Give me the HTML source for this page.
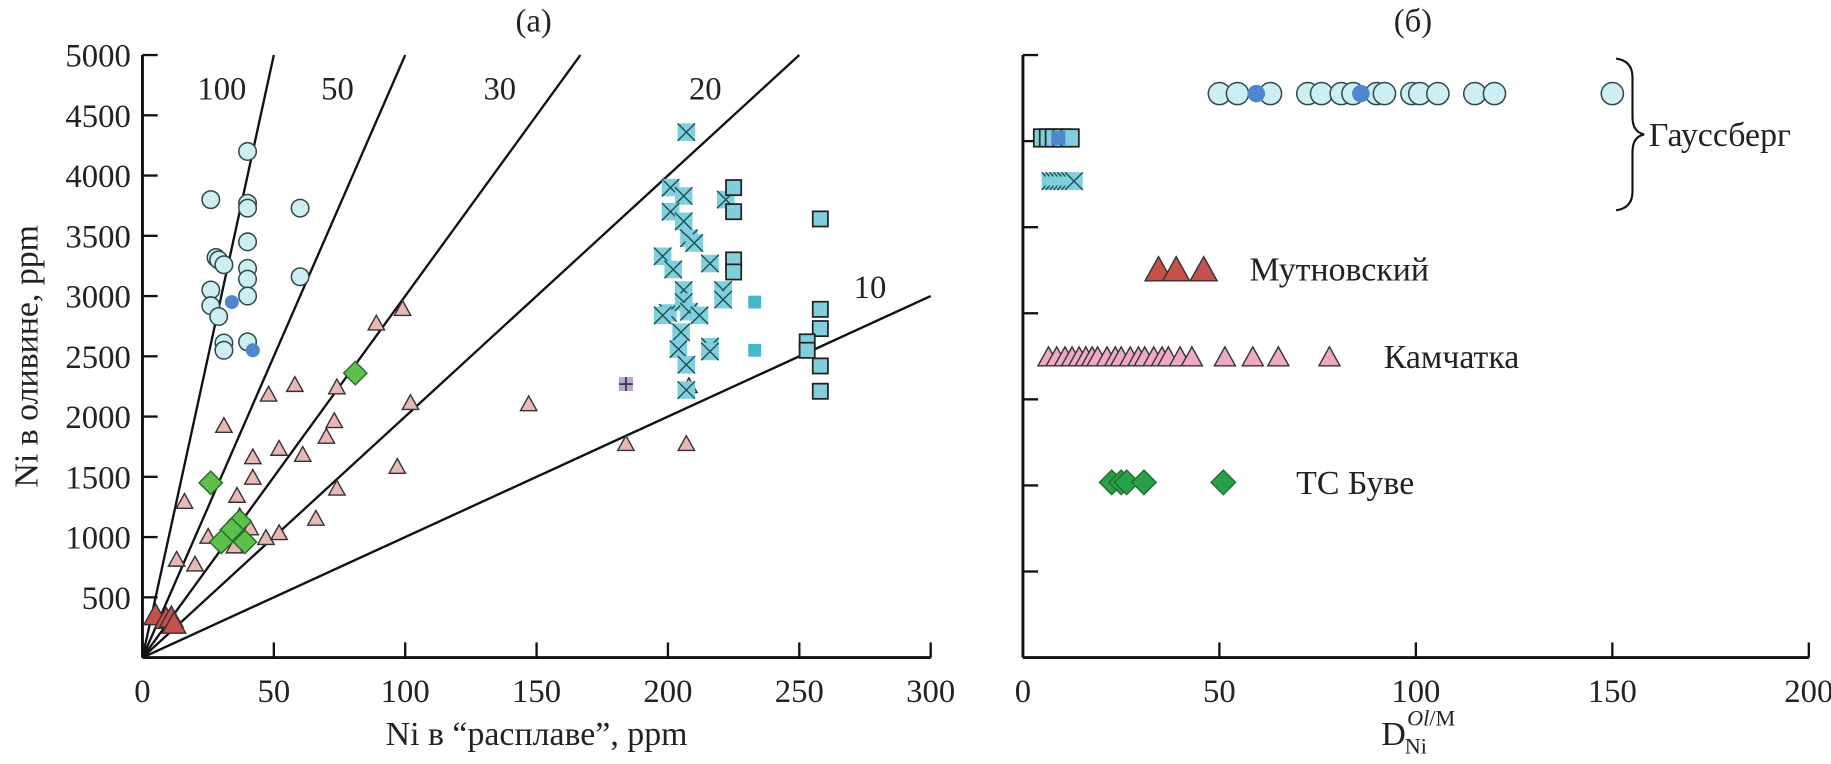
<!DOCTYPE html>
<html><head><meta charset="utf-8"><style>
html,body{margin:0;padding:0;background:#fff}
svg{display:block;font-family:"Liberation Serif","Noto Serif CJK SC",serif}
</style></head><body>
<svg id="chart" width="1831" height="764" viewBox="0 0 1568 654" xmlns="http://www.w3.org/2000/svg">
<g id="A"></g>
<g id="B"></g>
</svg>
<script>
// ---- panel (a) data ----
const xTicksA = [0,50,100,150,200,250,300];
const yTicksA = [500,1000,1500,2000,2500,3000,3500,4000,4500,5000];
const ratioLines = [100,50,30,20,10];
const gaussCircX = [40,26,40,40,60,40,28,29,31,40,40,60,26,40,26,29,31,31,40];
const gaussCircY = [4200,3800,3770,3730,3730,3450,3320,3300,3260,3230,3140,3160,3050,3000,2920,2830,2610,2550,2620];
const gaussDotX = [34,42];
const gaussDotY = [2950,2550];
const gaussSqX = [225,225,225,225,258,258,258,253,253,258,258];
const gaussSqY = [3900,3700,3300,3200,3640,2890,2730,2620,2550,2420,2210];
const gaussSqFillX = [233,233];
const gaussSqFillY = [2950,2550];
const gaussXsqX = [207,201,206,201,206,208,210,198,202,216,222,206,221,221,200,206,208,212,198,205,204,216,216,207,207];
const gaussXsqY = [4360,3900,3830,3700,3620,3480,3440,3330,3220,3270,3800,3050,3050,2970,2860,2950,2870,2840,2840,2700,2560,2580,2540,2430,2220];
const plusSqX = [184];
const plusSqY = [2270];
const kamX = [99,89,74,58,48,31,73,70,61,52,42,42,36,16,37,38,25,35,13,20,47,52,66,74,97,102,147,184,207,208,41];
const kamY = [2900,2780,2250,2270,2190,1930,1970,1840,1690,1740,1670,1500,1350,1300,1180,1070,1010,930,820,780,1000,1040,1160,1410,1590,2120,2110,1780,1780,2260,1080];
const bouvetX = [81,26,37,34,30,39];
const bouvetY = [2360,1450,1130,1060,960,960];
const mutX = [5,9,11,12];
const mutY = [360,330,340,290];
// ---- panel (b) data ----
const xTicksB = [0,50,100,150,200];
const circD = [50,54.6,63,72.5,76,81,84,90,92,99,101,105.6,115,120,150];
const circDotD = [59.4,86];
const sqD = [5,6.5,8,10,12];
const sqDotD = [9];
const xsqD = [7,8,9,10,11,12,13];
const mutD = [34.5,39,46];
const kamD = [6.5,8.6,10.7,12.5,14.3,16,17.6,19,21.4,23.5,25,27.3,29.4,31,33.3,35.4,37,40,43,51.4,58.5,65,78];
const bouvetD = [22.6,25,26.4,30.8,51];

const NS="http://www.w3.org/2000/svg";
function mk(tag,attrs,parent){const e=document.createElementNS(NS,tag);for(const k in attrs)e.setAttribute(k,attrs[k]);parent.appendChild(e);return e;}
const A=document.getElementById('A'), B=document.getElementById('B');
const ax0=122, ax1=797, ay0=563, ay1=47;
const xa=v=>ax0+(v/300)*(ax1-ax0);
const ya=v=>ay0-(v/5000)*(ay0-ay1);
const FS=28;
let e;
e=mk('line',{x1:ax0,y1:ay0,x2:ax1,y2:ay0,stroke:'#111','stroke-width':2.5},A);


e=mk('line',{x1:ax0,y1:ay0,x2:ax0,y2:ay1,stroke:'#111','stroke-width':2.5},A);


xTicksA.forEach(t=>{
  if(t>0){e=mk('line',{x1:xa(t),y1:ay0,x2:xa(t),y2:ay0-13,stroke:'#111','stroke-width':2},A);
  
  }
  e=mk('text',{x:xa(t),y:ay0+38,'font-size':FS,'text-anchor':'middle',fill:'#222'},A);e.textContent=t;
  
  
});
yTicksA.forEach(t=>{
  e=mk('line',{x1:ax0,y1:ya(t),x2:ax0+13,y2:ya(t),stroke:'#111','stroke-width':2},A);
  
  
  e=mk('text',{x:ax0-10,y:ya(t)+10,'font-size':FS,'text-anchor':'end',fill:'#222'},A);e.textContent=t;
  
  
});
ratioLines.forEach(r=>{
  let xe=5000/r, ye=5000; if(xe>300){xe=300;ye=300*r;}
  e=mk('line',{x1:xa(0),y1:ya(0),x2:xa(xe),y2:ya(ye),stroke:'#111','stroke-width':2},A);
  
  
});
[[190,75,'100'],[289,75,'50'],[428,75,'30'],[604,75,'20'],[745,245,'10']].forEach(l=>{
  e=mk('text',{x:l[0],y:l[1]+10,'font-size':FS,'text-anchor':'middle',fill:'#222'},A);e.textContent=l[2];
  
  
});
function circle(p,x,y,r,fill,stroke,name){e=mk('circle',{cx:x,cy:y,r:r,fill:fill,stroke:stroke,'stroke-width':stroke==='none'?0:1.3},p);
  
  }
function square(p,x,y,s,fill,stroke,name,cross,plus){
  const g=mk('g',{},p);
  
  
  mk('rect',{x:x-s/2,y:y-s/2,width:s,height:s,fill:fill,stroke:stroke,'stroke-width':stroke==='none'?0:1.5},g);
  if(cross){mk('path',{d:`M${x-s/2} ${y-s/2}L${x+s/2} ${y+s/2}M${x+s/2} ${y-s/2}L${x-s/2} ${y+s/2}`,stroke:'#1d4f55','stroke-width':1.2,fill:'none'},g);}
  if(plus){mk('path',{d:`M${x-s/2} ${y}L${x+s/2} ${y}M${x} ${y-s/2}L${x} ${y+s/2}`,stroke:'#333','stroke-width':1.4,fill:'none'},g);}
}
function tri(p,x,y,s,fill,name){const h=s*0.9;e=mk('path',{d:`M${x} ${y-h/2}L${x+s/2} ${y+h/2}L${x-s/2} ${y+h/2}Z`,fill:fill,stroke:'#333','stroke-width':1.2},p);
  
  }
function diamond(p,x,y,s,fill,name){e=mk('path',{d:`M${x} ${y-s/2}L${x+s/2} ${y}L${x} ${y+s/2}L${x-s/2} ${y}Z`,fill:fill,stroke:'#2a6a2a','stroke-width':1.2},p);
  
  }
const LB='#cdeef3', CY='#7fd0dc', PK='#eab8b4', GR='#5cc04a', RD='#c8504a', DB='#4f86d0';
kamX.forEach((v,i)=>tri(A,xa(v),ya(kamY[i]),14,PK,'kamchatka-point'));
mutX.forEach((v,i)=>tri(A,xa(v),ya(mutY[i]),20,RD,'mutnovsky-point'));
bouvetX.forEach((v,i)=>diamond(A,xa(v),ya(bouvetY[i]),20,GR,'bouvet-point'));
gaussCircX.forEach((v,i)=>circle(A,xa(v),ya(gaussCircY[i]),7.5,LB,'#2e4a4a','gaussberg-olivine-point'));
gaussDotX.forEach((v,i)=>circle(A,xa(v),ya(gaussDotY[i]),6,DB,'none','gaussberg-dot-point'));
gaussXsqX.forEach((v,i)=>square(A,xa(v),ya(gaussXsqY[i]),15,CY,'none','gaussberg-xsquare-point',true,false));
gaussSqX.forEach((v,i)=>square(A,xa(v),ya(gaussSqY[i]),13,CY,'#222','gaussberg-square-point',false,false));
gaussSqFillX.forEach((v,i)=>square(A,xa(v),ya(gaussSqFillY[i]),11,'#45b8cc','none','gaussberg-filled-square',false,false));
plusSqX.forEach((v,i)=>square(A,xa(v),ya(plusSqY[i]),12,'#b9a6d2','none','plus-square-point',false,true));
e=mk('text',{x:(ax0+ax1)/2,y:638,'font-size':29,'text-anchor':'middle',fill:'#222'},A);e.textContent='Ni в “расплаве”, ppm';


e=mk('text',{x:0,y:0,'font-size':29,'text-anchor':'middle',fill:'#222',transform:'translate(32,305) rotate(-90)'},A);e.textContent='Ni в оливине, ppm';


e=mk('text',{x:457,y:27,'font-size':28,'text-anchor':'middle',fill:'#222'},A);e.textContent='(а)';



// panel b
const bx0=876, bx1=1549, by0=563, by1=47;
const xb=v=>bx0+(v/200)*(bx1-bx0);
e=mk('line',{x1:bx0,y1:by0,x2:bx1,y2:by0,stroke:'#111','stroke-width':2.5},B);


e=mk('line',{x1:bx0,y1:by0,x2:bx0,y2:by1,stroke:'#111','stroke-width':2.5},B);


for(let k=1;k<=7;k++){const yy=by0-k*(by0-by1)/7;
  e=mk('line',{x1:bx0,y1:yy,x2:bx0+13,y2:yy,stroke:'#111','stroke-width':2},B);
  
  }
xTicksB.forEach(t=>{
  if(t>0){e=mk('line',{x1:xb(t),y1:by0,x2:xb(t),y2:by0-13,stroke:'#111','stroke-width':2},B);
  
  }
  e=mk('text',{x:xb(t),y:by0+38,'font-size':FS,'text-anchor':'middle',fill:'#222'},B);e.textContent=t;
  
  
});
const rowCirc=80,rowSq=118,rowX=155,rowMut=230,rowKam=305,rowBou=413;
kamD.forEach(v=>tri(B,xb(v),rowKam,18,'#efa9c4','kamchatka-d-point'));
mutD.forEach(v=>tri(B,xb(v),rowMut,23,RD,'mutnovsky-d-point'));
bouvetD.forEach(v=>diamond(B,xb(v),rowBou,21,'#23a24a','bouvet-d-point'));
circD.forEach(v=>circle(B,xb(v),rowCirc,9.5,LB,'#2e4a4a','gaussberg-d-circle'));
circDotD.forEach(v=>circle(B,xb(v),rowCirc,7.5,DB,'none','gaussberg-d-dot'));
sqD.forEach(v=>square(B,xb(v),rowSq,15,CY,'#222','gaussberg-d-square',false,false));
sqDotD.forEach(v=>square(B,xb(v),rowSq,12,DB,'none','gaussberg-d-square-filled',false,false));
xsqD.forEach(v=>square(B,xb(v),rowX,15,CY,'none','gaussberg-d-xsquare',true,false));
[[1070,230,'Мутновский','label-mutnovsky'],[1185,305,'Камчатка','label-kamchatka'],[1110,413,'ТС Буве','label-bouvet'],[1412,115,'Гауссберг','label-gaussberg']].forEach(l=>{
  e=mk('text',{x:l[0],y:l[1]+10,'font-size':29,fill:'#222'},B);e.textContent=l[2];
  
  
});
e=mk('path',{d:'M1384 50 Q1398 52 1398 66 L1398 100 Q1398 113 1408 115 Q1398 117 1398 130 L1398 164 Q1398 178 1384 180',fill:'none',stroke:'#111','stroke-width':1.8},B);


e=mk('text',{x:1210,y:27,'font-size':28,'text-anchor':'middle',fill:'#222'},B);e.textContent='(б)';


const tg=mk('g',{},B);


mk('text',{x:1183,y:638,'font-size':29,fill:'#222'},tg).textContent='D';
mk('text',{x:1203,y:645,'font-size':19,fill:'#222'},tg).textContent='Ni';
const sup=mk('text',{x:1205,y:621,'font-size':19,fill:'#222'},tg);
sup.innerHTML='<tspan font-style="italic">Ol</tspan>/M';
</script>
</body></html>
